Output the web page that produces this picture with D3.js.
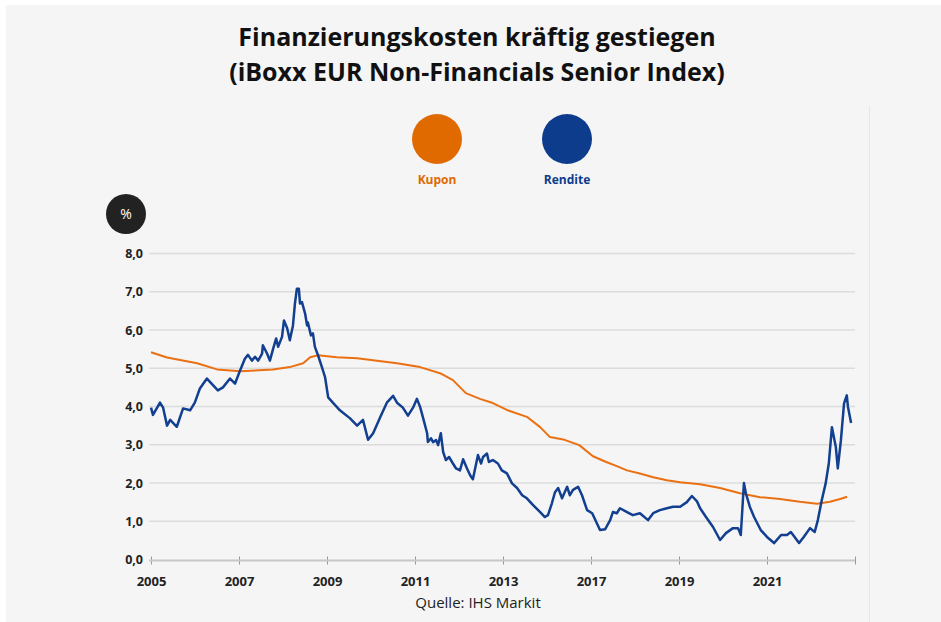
<!DOCTYPE html>
<html lang="de">
<head>
    <meta charset="UTF-8">
    <title>Finanzierungskosten</title>
    <script src="https://cdn.jsdelivr.net/npm/d3@7"></script>
    <style>
        body { margin: 0; background: #ffffff; }
        svg { display: block; font-family: "Open Sans", sans-serif; }
    </style>
</head>
<body>
<svg width="941" height="622"></svg>

<script>
    // Rendite (blue) - [year, percent]
    const rendite = [
        [2005.00, 3.97], [2005.05, 3.78], [2005.23, 4.10], [2005.31, 3.97], [2005.41, 3.50],
        [2005.49, 3.65], [2005.66, 3.47], [2005.82, 3.95], [2006.00, 3.90], [2006.12, 4.10],
        [2006.25, 4.47], [2006.43, 4.73], [2006.59, 4.55], [2006.71, 4.42], [2006.84, 4.50],
        [2007.02, 4.73], [2007.15, 4.60], [2007.28, 4.95], [2007.40, 5.25], [2007.48, 5.35],
        [2007.58, 5.20], [2007.66, 5.30], [2007.74, 5.20], [2007.84, 5.38], [2007.86, 5.60],
        [2007.97, 5.38], [2008.04, 5.20], [2008.12, 5.50], [2008.20, 5.78], [2008.25, 5.56],
        [2008.35, 5.82], [2008.40, 6.25], [2008.48, 6.05], [2008.55, 5.73], [2008.63, 6.12],
        [2008.68, 6.69], [2008.73, 7.08], [2008.78, 7.08], [2008.81, 6.69], [2008.86, 6.73],
        [2008.94, 6.43], [2008.99, 6.12], [2009.01, 6.20], [2009.09, 5.86], [2009.14, 5.91],
        [2009.19, 5.56], [2009.27, 5.34], [2009.37, 5.03], [2009.45, 4.77], [2009.53, 4.24],
        [2009.65, 4.10], [2009.83, 3.90], [2010.09, 3.69], [2010.27, 3.50], [2010.42, 3.65],
        [2010.55, 3.13], [2010.68, 3.30], [2010.86, 3.72], [2011.03, 4.10], [2011.19, 4.28],
        [2011.29, 4.10], [2011.44, 3.97], [2011.57, 3.76], [2011.70, 3.97], [2011.80, 4.20],
        [2011.88, 3.99], [2011.95, 3.73], [2012.06, 3.30], [2012.08, 3.07], [2012.16, 3.17],
        [2012.21, 3.07], [2012.29, 3.12], [2012.34, 2.99], [2012.41, 3.30], [2012.47, 2.81],
        [2012.54, 2.60], [2012.62, 2.68], [2012.72, 2.51], [2012.80, 2.38], [2012.90, 2.33],
        [2012.98, 2.62], [2013.08, 2.38], [2013.16, 2.20], [2013.23, 2.10], [2013.36, 2.73],
        [2013.44, 2.51], [2013.49, 2.68], [2013.59, 2.77], [2013.64, 2.55], [2013.74, 2.60],
        [2013.87, 2.51], [2013.97, 2.33], [2014.10, 2.25], [2014.23, 1.99], [2014.36, 1.87],
        [2014.49, 1.68], [2014.61, 1.60], [2014.77, 1.42], [2014.95, 1.24], [2015.07, 1.11],
        [2015.15, 1.16], [2015.25, 1.47], [2015.33, 1.76], [2015.41, 1.87], [2015.51, 1.60],
        [2015.64, 1.90], [2015.71, 1.68], [2015.79, 1.82], [2015.92, 1.90], [2016.02, 1.68],
        [2016.15, 1.29], [2016.28, 1.21], [2016.40, 0.95], [2016.48, 0.77], [2016.61, 0.79],
        [2016.74, 1.03], [2016.81, 1.24], [2016.91, 1.21], [2016.99, 1.34], [2017.17, 1.24],
        [2017.32, 1.16], [2017.50, 1.21], [2017.71, 1.03], [2017.84, 1.21], [2018.01, 1.29],
        [2018.19, 1.34], [2018.35, 1.38], [2018.53, 1.38], [2018.70, 1.50], [2018.83, 1.66],
        [2018.96, 1.52], [2019.04, 1.34], [2019.19, 1.11], [2019.37, 0.85], [2019.55, 0.51],
        [2019.70, 0.69], [2019.88, 0.82], [2020.01, 0.82], [2020.08, 0.64], [2020.16, 2.00],
        [2020.21, 1.73], [2020.31, 1.38], [2020.42, 1.11], [2020.59, 0.77], [2020.75, 0.59],
        [2020.93, 0.43], [2021.11, 0.64], [2021.26, 0.64], [2021.36, 0.72], [2021.57, 0.43],
        [2021.69, 0.59], [2021.85, 0.82], [2021.97, 0.72], [2022.05, 1.03], [2022.15, 1.55],
        [2022.25, 1.99], [2022.33, 2.51], [2022.41, 3.46], [2022.51, 2.94], [2022.56, 2.38],
        [2022.64, 3.12], [2022.72, 4.08], [2022.79, 4.29], [2022.82, 3.99], [2022.90, 3.57]
    ];

    // Kupon (orange) - [year, percent]
    const kupon = [
        [2005.00, 5.42], [2005.41, 5.28], [2006.18, 5.13], [2006.69, 4.97], [2007.28, 4.92],
        [2008.12, 4.97], [2008.55, 5.03], [2008.89, 5.13], [2009.07, 5.29], [2009.27, 5.34],
        [2009.75, 5.29], [2010.27, 5.26], [2011.29, 5.13], [2011.88, 5.03], [2012.39, 4.87],
        [2012.72, 4.69], [2013.05, 4.35], [2013.41, 4.20], [2013.74, 4.09], [2014.10, 3.91],
        [2014.61, 3.73], [2014.95, 3.46], [2015.20, 3.20], [2015.54, 3.14], [2015.95, 2.99],
        [2016.30, 2.70], [2016.64, 2.55], [2016.91, 2.44], [2017.17, 2.33], [2017.50, 2.25],
        [2017.84, 2.15], [2018.19, 2.07], [2018.53, 2.02], [2019.04, 1.97], [2019.55, 1.87],
        [2020.06, 1.73], [2020.57, 1.63], [2021.08, 1.58], [2021.59, 1.51], [2022.03, 1.46],
        [2022.36, 1.51], [2022.62, 1.58], [2022.80, 1.64]
    ];

    const xTickLabels = ["2005", "2007", "2009", "2011", "2013", "2017", "2019", "2021", ""];
    const yTicks = [0, 1, 2, 3, 4, 5, 6, 7, 8];
    const legendItems = [
        {name: "Kupon", color: "#e06a00"},
        {name: "Rendite", color: "#0d3c8c"}
    ];

    const svg = d3.select("svg");

    // page background
    svg.append("rect").attr("x", 6).attr("y", 5).attr("width", 935).attr("height", 617)
        .attr("fill", "#f5f5f5");
    svg.append("line").attr("x1", 869.5).attr("x2", 869.5).attr("y1", 106).attr("y2", 622)
        .attr("stroke", "#e6e6e6").attr("stroke-width", 1);

    // title
    const title = svg.append("text").attr("text-anchor", "middle")
        .attr("font-weight", "bold").attr("font-size", 25).attr("fill", "#111");
    title.append("tspan").attr("x", 477).attr("y", 46).text("Finanzierungskosten kräftig gestiegen");
    title.append("tspan").attr("x", 477).attr("y", 81).text("(iBoxx EUR Non-Financials Senior Index)");

    // legend
    const legend = svg.selectAll(".legend").data(legendItems).enter()
        .append("g").attr("class", "legend")
        .attr("transform", (d, i) => "translate(" + (437 + i * 130) + ",139)");
    legend.append("circle").attr("r", 25).attr("fill", d => d.color);
    legend.append("text").attr("y", 45).attr("text-anchor", "middle")
        .attr("font-size", 12).attr("font-weight", "bold")
        .attr("fill", d => d.color).text(d => d.name);

    // scales
    const x = d3.scaleLinear().domain([2005, 2023]).range([151, 855]);
    const y = d3.scaleLinear().domain([0, 8]).range([559.5, 253.5]);
    const fmt = d3.formatLocale({decimal: ",", thousands: ".", grouping: [3], currency: ["", "€"]}).format(".1f");

    // % badge
    svg.append("circle").attr("cx", 126).attr("cy", 214).attr("r", 20).attr("fill", "#222");
    svg.append("text").attr("x", 126).attr("y", 219).attr("text-anchor", "middle")
        .attr("font-size", 14).attr("fill", "#fff").text("%");

    // gridlines
    svg.append("g").selectAll("line").data(yTicks.filter(d => d > 0)).enter()
        .append("line")
        .attr("x1", 149).attr("x2", 855)
        .attr("y1", d => y(d)).attr("y2", d => y(d))
        .attr("stroke", "#dcdcdc").attr("stroke-width", 1.5);

    // y labels
    svg.append("g").selectAll("text").data(yTicks).enter()
        .append("text")
        .attr("x", 143).attr("y", d => y(d) + 4.5)
        .attr("text-anchor", "end").attr("font-size", 12.5).attr("font-weight", "bold")
        .attr("fill", "#222").text(d => fmt(d));

    // x axis
    const xTicks = d3.range(xTickLabels.length).map(i => 2005 + i * 18 / (xTickLabels.length - 1));
    const xAxis = d3.axisBottom(x).tickValues(xTicks)
        .tickFormat((d, i) => xTickLabels[i]).tickSize(4).tickPadding(12);
    const gx = svg.append("g").attr("transform", "translate(0,560.5)").call(xAxis);
    gx.select(".domain").remove();
    gx.append("line").attr("x1", 149).attr("x2", 855).attr("stroke", "#c8c8c8").attr("stroke-width", 2);
    gx.selectAll(".tick line").attr("y1", -4).attr("stroke", "#999");
    gx.selectAll(".tick text").attr("font-family", "Open Sans, sans-serif")
        .attr("font-size", 13).attr("font-weight", "bold").attr("fill", "#222");

    // lines
    const line = d3.line().x(d => x(d[0])).y(d => y(d[1]));
    svg.append("path").datum(kupon).attr("d", line)
        .attr("fill", "none").attr("stroke", "#ea7012").attr("stroke-width", 2)
        .attr("stroke-linejoin", "round");
    svg.append("path").datum(rendite).attr("d", line)
        .attr("fill", "none").attr("stroke", "#123f8f").attr("stroke-width", 2.5)
        .attr("stroke-linejoin", "round");

    // source
    svg.append("text").attr("x", 478).attr("y", 608).attr("text-anchor", "middle")
        .attr("font-size", 15).attr("fill", "#222").text("Quelle: IHS Markit");
</script>
</body>
</html>
